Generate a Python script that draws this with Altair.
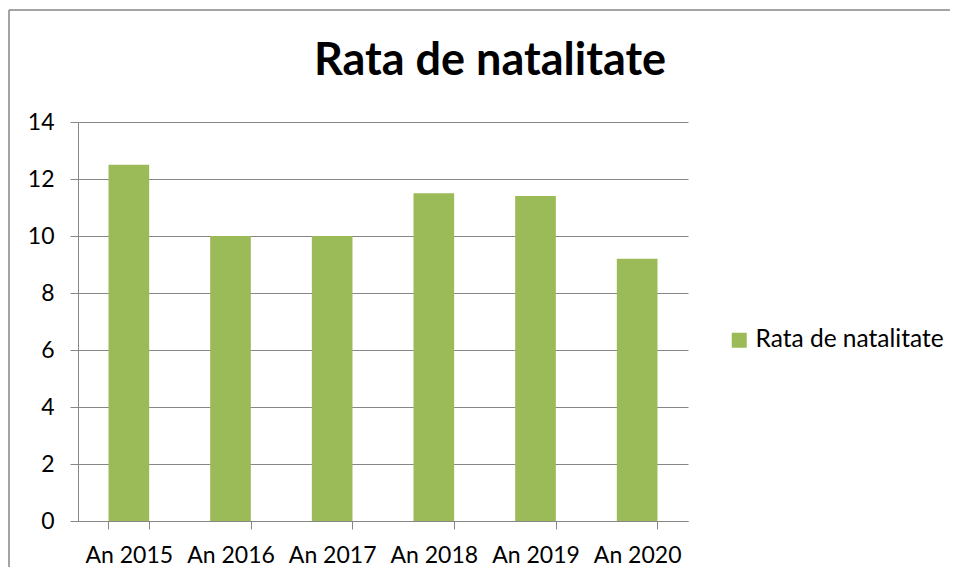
import altair as alt
import pandas as pd

categories = ["An 2015", "An 2016", "An 2017", "An 2018", "An 2019", "An 2020"]
values = [12.5, 10.0, 10.0, 11.5, 11.4, 9.2]
series_name = "Rata de natalitate"
title_text = "Rata de natalitate"
y_ticks = [0, 2, 4, 6, 8, 10, 12, 14]

df = pd.DataFrame({"An": categories, "Valoare": values, "Serie": [series_name] * len(categories)})

FONT = "Lato"
GRID = "#868686"

bars = alt.Chart(df).mark_bar(color="#9BBB59").encode(
    x=alt.X("An:N", sort=categories, title=None,
            scale=alt.Scale(paddingInner=0.6, paddingOuter=0.3),
            axis=alt.Axis(labelAngle=0, tickBand="extent", tickSize=8, tickColor=GRID,
                          domainColor=GRID, labelFont=FONT, labelFontSize=23,
                          labelColor="#000000", labelPadding=15, grid=False)),
    y=alt.Y("Valoare:Q", title=None,
            scale=alt.Scale(domain=[0, 14], nice=False),
            axis=alt.Axis(values=y_ticks, tickSize=8, tickColor=GRID, domainColor=GRID,
                          gridColor=GRID, gridOpacity=1, grid=True, labelFont=FONT,
                          labelFontSize=23, labelColor="#000000", labelPadding=16)),
    color=alt.Color("Serie:N", scale=alt.Scale(range=["#9BBB59"]),
                    legend=alt.Legend(title=None, orient="none", legendX=649, legendY=206,
                                      symbolType="square", symbolSize=225, symbolStrokeWidth=0,
                                      labelFont=FONT, labelFontSize=24.5, labelColor="#000000",
                                      labelOffset=4, labelLimit=0)),
)

one = pd.DataFrame({"t": [title_text]})

border_left = alt.Chart(one).mark_rule(stroke=GRID, strokeWidth=1.5).encode(
    x=alt.value(-69), y=alt.value(-112), y2=alt.value(445)
)
border_top = alt.Chart(one).mark_rule(stroke=GRID, strokeWidth=1.5).encode(
    x=alt.value(-69), x2=alt.value(880), y=alt.value(-112)
)

title = alt.Chart(one).mark_text(font=FONT, fontSize=45, fontWeight="bold", color="#000000",
                                 align="center", baseline="alphabetic").encode(
    x=alt.value(412), y=alt.value(-47), text="t:N"
)

chart = alt.layer(border_left, border_top, bars, title).properties(
    width=610, height=399,
    autosize=alt.AutoSizeParams(type="none"),
    padding={"left": 70, "top": 114, "right": 262, "bottom": 46},
).configure_view(stroke=None)

chart.save("out.html", embed_options={"renderer": "svg", "actions": False})
